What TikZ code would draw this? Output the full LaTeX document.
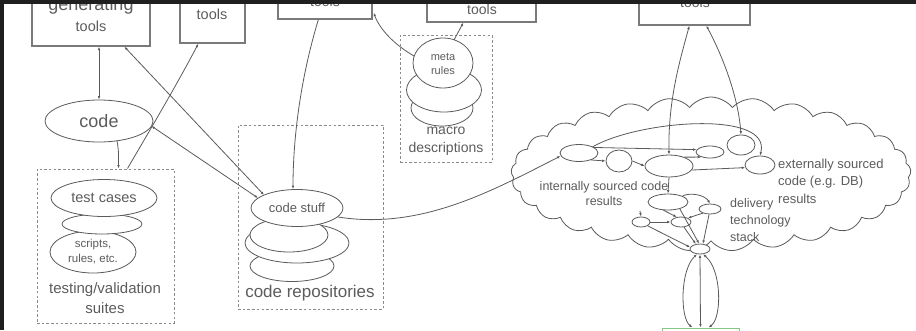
\documentclass[tikz,border=0pt]{standalone}
\usepackage{fontspec}
\setmainfont{Liberation Sans}
\usetikzlibrary{shapes.geometric,shapes.symbols,arrows.meta,calc}

\definecolor{ink}{HTML}{5A5A5A}
\definecolor{frame}{HTML}{7A7A7A}
\definecolor{txt}{HTML}{5C5C5C}
\definecolor{dashc}{HTML}{8A8A8A}
\definecolor{band}{HTML}{1F1F1F}
\definecolor{greenedge}{HTML}{86C986}

\newcommand{\fsz}[2]{\fontsize{#1pt}{#2pt}\selectfont}

\tikzset{
  toolbox/.style={rectangle, draw=frame, line width=1.3pt, fill=white, inner sep=0},
  groupbox/.style={rectangle, draw=dashc, line width=1pt, dash pattern=on 2.5pt off 2.2pt, inner sep=0},
  blob/.style={ellipse, draw=ink, line width=0.8pt, fill=white, inner sep=0},
  lbl/.style={text=txt, inner sep=0, align=center},
  link/.style={draw=ink, line width=0.8pt},
  tip/.style={-{Latex[length=3.5pt,width=2.6pt]}},
  tips/.style={{Latex[length=3.5pt,width=2.6pt]}-{Latex[length=3.5pt,width=2.6pt]}},
}

\begin{document}
\begin{tikzpicture}[x=1pt,y=-1pt]
\useasboundingbox (0,0) rectangle (916,330);
\clip (0,0) rectangle (916,330);

% ---------- tool boxes along the top ----------
\node[toolbox, minimum width=118pt, minimum height=80pt] (b1) at (91,6) {};
\node[toolbox, minimum width=65pt, minimum height=70pt] (b2) at (212.5,8) {};
\node[toolbox, minimum width=94pt, minimum height=60pt] (b3) at (325,-11) {};
\node[toolbox, minimum width=109pt, minimum height=60pt] (b4) at (481.5,-8) {};
\node[toolbox, minimum width=111pt, minimum height=60pt] (b5) at (694.5,-5) {};
\node[lbl, font=\fsz{18}{20}] (t1a) at (91,6) {generating};
\node[lbl, font=\fsz{14.5}{16}] (t1b) at (91,26) {tools};
\node[lbl, font=\fsz{14.5}{16}] (t2) at (212,14) {tools};
\node[lbl, font=\fsz{14}{16}] (t3) at (325,1) {tools};
\node[lbl, font=\fsz{14}{16}] (t4) at (482,9) {tools};
\node[lbl, font=\fsz{14}{16}] (t5) at (695,2) {tools};

% ---------- dashed groups ----------
\node[groupbox, minimum width=137pt, minimum height=154pt] (tb) at (105.5,246) {};
\node[groupbox, minimum width=145pt, minimum height=184pt] (rb) at (310.5,217) {};
\node[groupbox, minimum width=92pt, minimum height=127pt] (mb) at (446,98.5) {};

% ---------- code ----------
\node[blob, minimum width=108pt, minimum height=42pt, font=\fsz{18}{20}, text=txt] (code) at (99,121) {code};

% ---------- testing / validation stack ----------
\node[blob, minimum width=86pt, minimum height=42pt] (scr) at (93,252) {};
\node[lbl, font=\fsz{11.5}{15}] (scrt) at (93,252) {scripts,\\rules, etc.};
\node[blob, minimum width=80pt, minimum height=20pt] (tmid) at (102,224) {};
\node[blob, minimum width=106pt, minimum height=37pt, font=\fsz{14.5}{16}, text=txt] (tc) at (104,198) {test cases};
\node[lbl, font=\fsz{15}{20}] (tbt) at (105,298) {testing/validation\\suites};

% ---------- code repositories stack ----------
\node[blob, minimum width=84pt, minimum height=31pt] (r4) at (292,266) {};
\node[blob, minimum width=104pt, minimum height=40pt] (r3) at (297,243) {};
\node[blob, minimum width=78pt, minimum height=34pt] (r2) at (289,235) {};
\node[blob, minimum width=92pt, minimum height=37pt, font=\fsz{13}{15}, text=txt] (cs) at (297,208) {code stuff};
\node[lbl, font=\fsz{17}{19}] (rbt) at (310,293) {code repositories};

% ---------- macro descriptions stack ----------
\node[blob, minimum width=62pt, minimum height=36pt] (mr3) at (442,108) {};
\node[blob, minimum width=75pt, minimum height=44pt] (mr2) at (444,90) {};
\node[blob, minimum width=60pt, minimum height=50pt] (meta) at (443,63) {};
\node[lbl, font=\fsz{11}{14}] (metat) at (443,64) {meta\\rules};
\node[lbl, font=\fsz{14}{18}] (mbt) at (446,141) {macro\\descriptions};

% ---------- results cloud ----------
\node[cloud, draw=ink, line width=0.8pt, fill=white, cloud puffs=29, cloud puff arc=105,
      aspect=2.6, minimum width=400pt, minimum height=154pt, inner sep=0] (cl) at (711,174) {};

\node[blob, minimum width=38pt, minimum height=17pt] (e1) at (579,153) {};
\node[blob, minimum width=26pt, minimum height=22pt] (e2) at (619,161) {};
\node[blob, minimum width=48pt, minimum height=22pt] (e3) at (669,166) {};
\node[blob, minimum width=28pt, minimum height=12pt] (e4) at (710,152) {};
\node[blob, minimum width=28pt, minimum height=20pt] (e5) at (741,145) {};
\node[blob, minimum width=30pt, minimum height=18pt] (e6) at (760,165) {};
\node[blob, minimum width=40pt, minimum height=16pt] (d1) at (668,202) {};
\node[blob, minimum width=22pt, minimum height=10pt] (d2) at (710,209) {};
\node[blob, minimum width=18pt, minimum height=10pt] (d3) at (641,222) {};
\node[blob, minimum width=20pt, minimum height=10pt] (d4) at (681,222) {};
\node[blob, minimum width=20pt, minimum height=10pt] (d5) at (700,249) {};

\node[lbl, font=\fsz{12.5}{15}] (intt) at (604,194) {internally sourced code\\results};
\node[lbl, font=\fsz{13}{17.5}, align=left, anchor=west] (extt) at (778,181) {externally sourced\\code (e.g. DB)\\results};
\node[lbl, font=\fsz{12.5}{17}, align=left, anchor=west] (delt) at (730,220) {delivery\\technology\\stack};

% ---------- target box at the bottom ----------
\node[rectangle, draw=greenedge, line width=1pt, minimum width=77pt, minimum height=20pt, inner sep=0] (gb) at (700.5,338) {};

% ---------- connectors on the left ----------
\draw[link,tips] (b1.south -| code.north) -- (code.north);
\draw[link,tip] ($(code.center)+(18,20)$) .. controls +(2,10) and +(0,-10) .. ($(tb.north west)+(82,0)$);
\draw[link,tip] ($(tb.north west)+(91,0)$) .. controls (147,135) and (175,88) .. ($(b2.south west)+(19,0)$);
\draw[link,tips] ($(b1.south west)+(93,0)$) -- ($(cs.center)+(-33,-13)$);
\draw[link,tips] ($(code.east)+(-2,5)$) -- ($(cs.center)+(-39,-10)$);
\draw[link,tip] ($(b3.south west)+(41,0)$) .. controls (300,80) and (293,140) .. ($(cs.north)+(-4,0)$);
\draw[link,tip] ($(meta.center)+(-29,-7)$) .. controls (395,45) and (380,30) .. ($(b3.south east)+(1,-7)$);
\draw[link,tip] ($(meta.center)+(11,-23)$) -- ($(b4.south west)+(37,0)$);
\draw[link,tip] ($(cs.center)+(41,9)$) .. controls (420,230) and (490,192) .. ($(e1.west)+(1,3)$);

% ---------- connectors inside the cloud ----------
\draw[link,tip] (e1.north east) .. controls (640,120) and (772,110) .. (e6.north);
\draw[link,tip] (e1.20) -- (e4.170);
\draw[link,tip] (e1.-30) -- (e2.west);
\draw[link,tip] (e2.east) -- (e3.west);
\draw[link,tip] (e3.30) -- (e4.-150);
\draw[link,tip] (e3.-10) -- (e6.-170);
\draw[link,tips] (e3.north) .. controls (668,100) and (680,60) .. ($(b5.south west)+(51,0)$);
\draw[link,tips] (e5.north) .. controls (738,95) and (722,55) .. ($(b5.south west)+(68,0)$);
\draw[link,tip] (e3.south) -- (d1.north);
\draw[link,tip] (d1.north east) .. controls (690,192) and (705,195) .. (d2.north);
\draw[link,tip] (d1.-120) -- (d4.130);
\draw[link,tip] (d3.east) -- (d4.west);
\draw[link,tip] (d2.-150) -- (d4.30);
\draw[link,tip] (d3.-30) -- (d5.170);
\draw[link,tip] (d4.-60) -- (d5.130);
\draw[link,tip] (d2.-100) -- (d5.60);
\draw[link,tip] (d1.-30) -- (d5.100);
\coordinate (stub) at (640,211);
\draw[link,tip] (stub) -- (d3.north);

% ---------- delivery links ----------
\draw[link,tips] (d5.-120) .. controls (680,270) and (680,318) .. ($(gb.north)+(-8,0)$);
\draw[link,tips] (d5.south) -- (gb.north);
\draw[link,tips] (d5.-60) .. controls (722,270) and (722,318) .. ($(gb.north)+(8,0)$);

% ---------- dark border strips ----------
\fill[band] (0,0) rectangle (916,4);
\fill[band] (0,0) rectangle (4,330);
\end{tikzpicture}
\end{document}
